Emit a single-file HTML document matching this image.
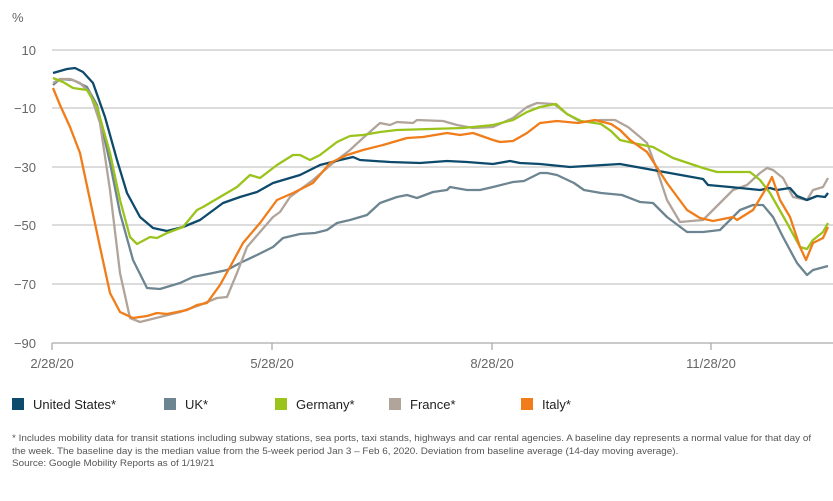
<!DOCTYPE html>
<html><head><meta charset="utf-8"><style>
body{margin:0;background:#fff;width:833px;height:501px;overflow:hidden;font-family:"Liberation Sans",sans-serif}
svg{position:absolute;left:0;top:0}
.t{fill:#666;font-size:13px}
.lg{font-size:13px;fill:#222}
.fn{position:absolute;left:12px;top:432px;font-size:9.3px;line-height:12.5px;color:#555;width:830px;white-space:nowrap}
</style></head><body>
<svg width="833" height="501" viewBox="0 0 833 501">
<g stroke="#c8c8c8" stroke-width="1.3">
<line x1="52" x2="833" y1="50" y2="50"/><line x1="52" x2="833" y1="108" y2="108"/>
<line x1="52" x2="833" y1="167" y2="167"/><line x1="52" x2="833" y1="225" y2="225"/>
<line x1="52" x2="833" y1="284" y2="284"/>
</g>
<g stroke="#aaa" stroke-width="1.3"><line x1="52" x2="833" y1="343" y2="343"/>
<line x1="52" x2="52" y1="343" y2="350"/><line x1="272" x2="272" y1="343" y2="350"/><line x1="492" x2="492" y1="343" y2="350"/><line x1="711" x2="711" y1="343" y2="350"/></g>
<text class="t" x="12" y="22">%</text>
<g class="t" text-anchor="end"><text x="36" y="55">10</text><text x="36" y="113">−10</text><text x="36" y="172">−30</text><text x="36" y="230">−50</text><text x="36" y="289">−70</text><text x="36" y="348">−90</text></g>
<g class="t" text-anchor="middle"><text x="52" y="368">2/28/20</text><text x="272" y="368">5/28/20</text><text x="492" y="368">8/28/20</text><text x="711" y="368">11/28/20</text></g>
<g fill="none" stroke-width="2.3" stroke-linejoin="round">
<polyline stroke="#6d8591" points="53,85 60,79 73,80 87,87 97,105 110,163 120,213 133,260 147,288 160,289 180,283 193,277 213,273 227,270 240,263 257,255 273,247 283,238 300,234 315,233 327,230 337,223 350,220 367,215 380,203 397,197 407,195 417,198 433,192 447,190 450,187 467,190 480,190 493,187 513,182 524,181 540,173 547,173 557,175 574,183 584,190 601,193 622,195 640,202 653,203 667,217 687,232 703,232 720,230 740,210 753,205 763,205 773,217 783,237 797,263 807,275 813,270 828,266"/>
<polyline stroke="#b0a49b" points="53,83 60,79 70,79 80,83 90,93 100,123 110,190 120,273 130,318 140,322 160,317 180,312 200,305 217,298 227,297 237,273 247,247 260,232 273,217 280,212 290,197 313,180 333,163 350,150 363,138 380,123 390,125 397,122 413,123 417,120 443,121 457,125 473,128 493,127 513,118 527,107 537,103 554,104 567,114 581,122 601,120 615,120 628,127 640,137 647,143 657,170 667,200 680,222 703,220 713,210 733,190 747,185 760,173 767,168 773,170 783,178 793,197 807,200 813,190 823,187 828,178"/>
<polyline stroke="#0d4a6b" points="53,73 67,69 75,68 83,72 93,83 105,117 117,160 127,193 140,217 153,228 167,231 183,227 200,220 223,203 240,197 257,192 273,183 300,175 320,165 340,160 353,157 360,160 390,162 420,163 447,161 467,162 493,164 510,161 520,163 540,164 570,167 620,164 653,170 703,179 708,185 730,187 760,190 770,188 777,190 790,188 797,196 807,200 817,196 825,197 828,193"/>
<polyline stroke="#9ac31c" points="53,78 63,82 73,88 87,90 97,107 110,153 120,200 130,237 137,244 150,237 157,238 167,233 183,227 197,210 203,207 220,197 237,187 250,175 260,178 277,165 293,155 300,155 310,160 320,155 337,142 350,136 363,135 380,132 397,130 430,129 463,128 493,125 513,120 527,112 540,107 556,104 567,114 581,121 601,124 611,131 620,140 633,143 653,147 673,158 703,168 717,172 750,172 760,180 770,193 787,223 800,247 807,249 813,240 823,232 828,223"/>
<polyline stroke="#f07d1a" points="53,88 60,105 70,127 80,153 90,200 100,247 110,293 120,312 133,318 147,316 157,313 167,314 187,310 197,305 207,303 220,285 230,267 243,243 260,223 277,200 293,193 313,183 330,163 347,155 363,150 383,145 407,138 423,137 447,133 460,135 473,133 493,140 500,142 513,141 527,133 540,123 557,121 578,123 595,120 611,124 620,130 630,140 647,152 667,183 687,210 700,218 713,221 733,217 737,220 753,210 767,187 772,177 780,200 790,217 800,247 806,260 813,243 823,238 828,227"/>
</g>
<rect x="12" y="398" width="12" height="12" fill="#0d4a6b"/><text class="lg" x="33" y="409">United States*</text>
<rect x="164" y="398" width="12" height="12" fill="#6d8591"/><text class="lg" x="185" y="409">UK*</text>
<rect x="275" y="398" width="12" height="12" fill="#9ac31c"/><text class="lg" x="296" y="409">Germany*</text>
<rect x="389" y="398" width="12" height="12" fill="#b0a49b"/><text class="lg" x="410" y="409">France*</text>
<rect x="521" y="398" width="12" height="12" fill="#f07d1a"/><text class="lg" x="542" y="409">Italy*</text>
</svg>
<div class="fn"><span style="display:inline-block;transform-origin:0 0;transform:scaleX(1.065)">* Includes mobility data for transit stations including subway stations, sea ports, taxi stands, highways and car rental agencies. A baseline day represents a normal value for that day of<br>the week. The baseline day is the median value from the 5-week period Jan 3 – Feb 6, 2020. Deviation from baseline average (14-day moving average).<br>Source: Google Mobility Reports as of 1/19/21</span></div>
</body></html>
